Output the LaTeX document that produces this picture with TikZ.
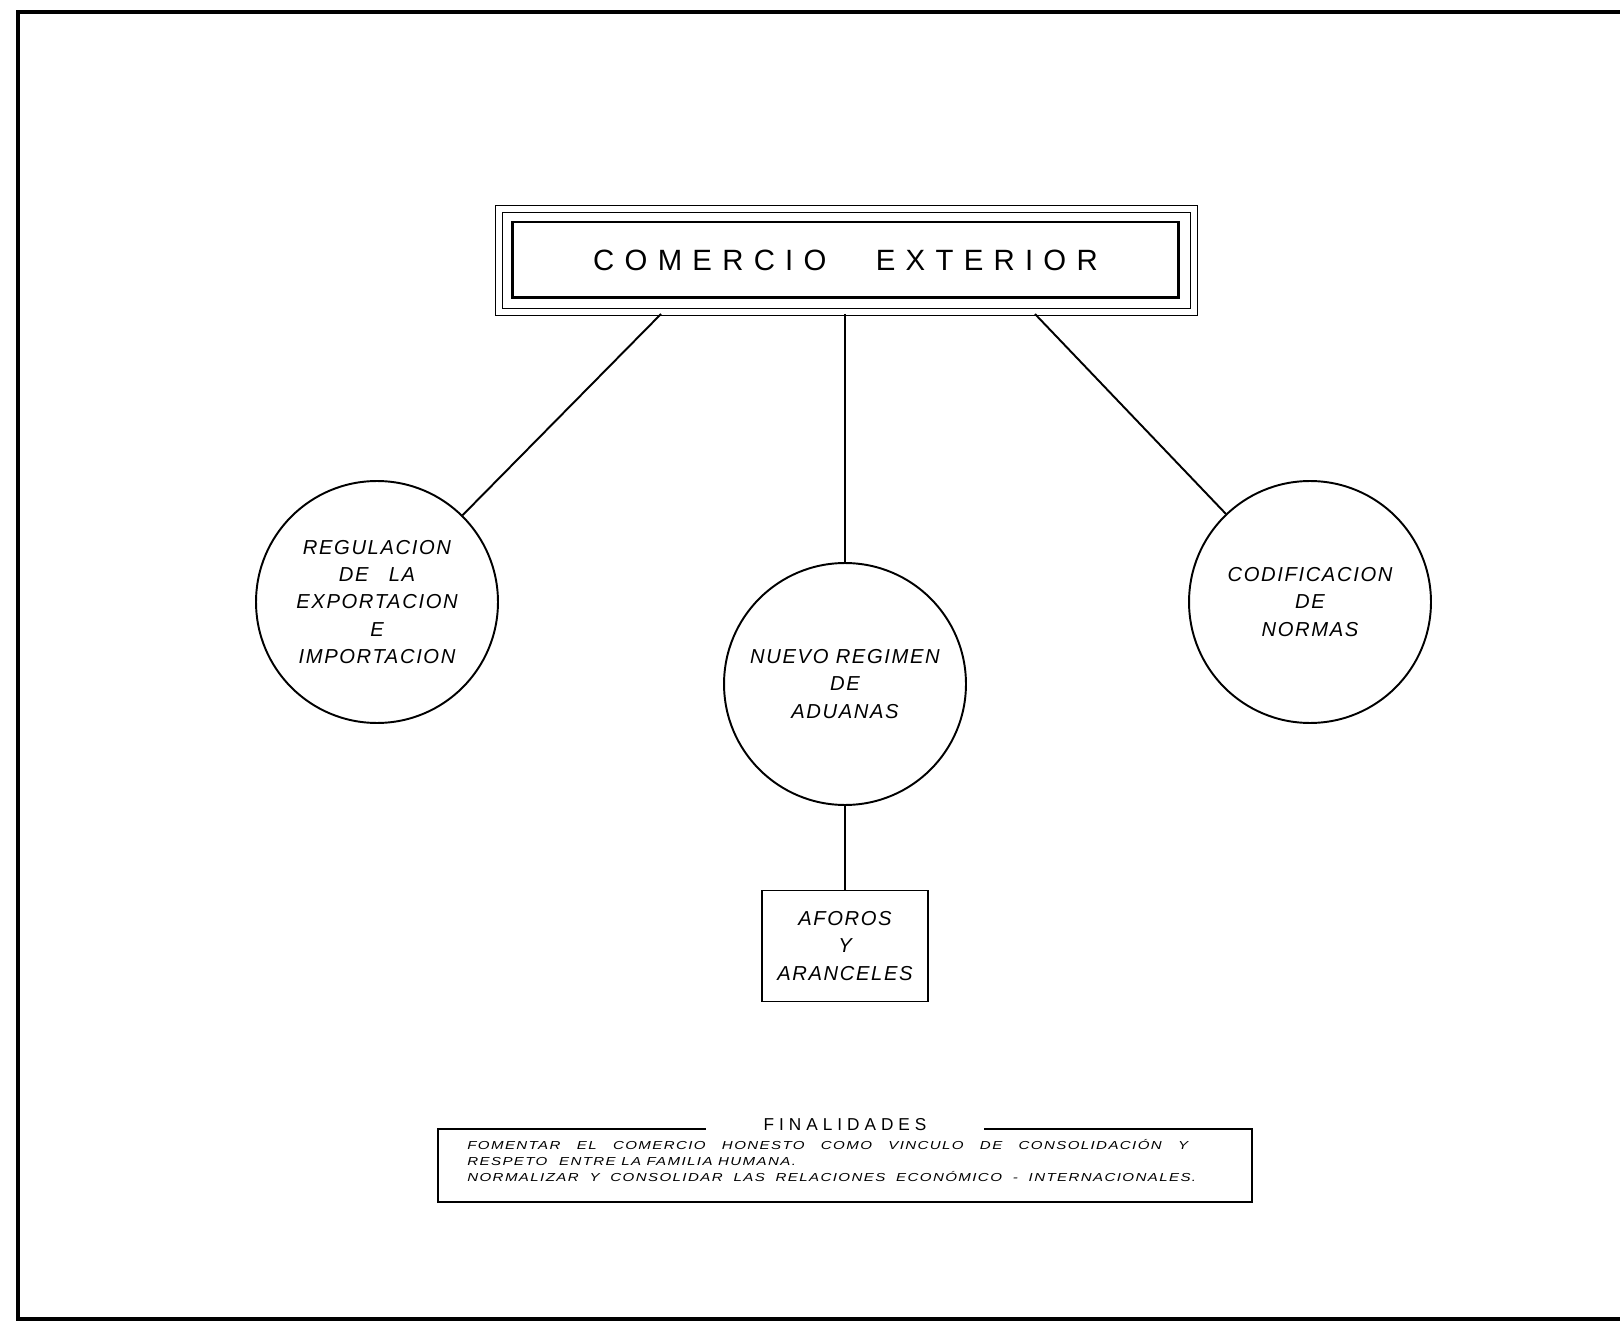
\documentclass[tikz,border=0pt]{standalone}
\usepackage{fontspec}
\usepackage{tikz}
\usetikzlibrary{positioning,calc}
\setmainfont{Liberation Sans}
\newfontfamily\rotulo[LetterSpace=35]{Liberation Sans}
\newfontfamily\letra[LetterSpace=8]{Liberation Sans}
\newfontfamily\fintit[LetterSpace=29]{Liberation Sans}
\newfontfamily\finletra[LetterSpace=12,FakeStretch=1.3]{Liberation Sans}

\tikzset{
  tema/.style={circle,draw,line width=1.1pt,minimum size=4.84cm,inner sep=0pt,align=center,
    font=\letra\itshape\fontsize{11.5}{15.4}\selectfont},
  rama/.style={line width=1.1pt},
}

\begin{document}
\begin{tikzpicture}[x=0.02cm,y=-0.02cm]
  \useasboundingbox (0,0) rectangle (1620,1324);
  % marco
  \draw[line width=2.6pt] (1620,12) -- (18,12) -- (18,1319) -- (1620,1319);

  % titulo
  \node[draw,line width=1.7pt,minimum width=13.34cm,minimum height=1.52cm,
    font=\rotulo\fontsize{16.7}{20}\selectfont] (ce) at (845.5,260) {COMERCIO \hspace{0.62cm}EXTERIOR};
  \draw[line width=0.6pt] ($(ce.south west)+(-15,16)$) rectangle ($(ce.north east)+(17,-15)$);
  \draw[line width=0.6pt] ($(ce.south west)+(-8,9)$) rectangle ($(ce.north east)+(10,-8)$);
  \coordinate (izq) at (661,314);
  \coordinate (cen) at (845,314);
  \coordinate (der) at (1035,314);

  % temas
  \node[tema] (reg) at (377,602) {REGULACION\\DE\quad LA\\EXPORTACION\\E\\IMPORTACION};
  \node[tema] (adu) at (845,684) {NUEVO REGIMEN\\DE\\ADUANAS};
  \node[tema] (cod) at (1310,602) {CODIFICACION\\DE\\NORMAS};
  \node[draw,line width=1.1pt,minimum width=3.32cm,minimum height=2.22cm,align=center,
    font=\letra\itshape\fontsize{11.5}{15.4}\selectfont] (afo) at (845,946) {AFOROS\\Y\\ARANCELES};

  \draw[rama] (izq) -- (reg);
  \draw[rama] (cen) -- (adu);
  \draw[rama] (der) -- (cod);
  \draw[rama] (adu) -- (afo);

  % finalidades
  \draw[line width=1pt] (706,1129) -- (438,1129) -- (438,1202) -- (1252,1202) -- (1252,1129) -- (984,1129);
  \node[font=\fintit\fontsize{9.8}{12}\selectfont] (tfin) at (845,1125) {FINALIDADES};
  \node[anchor=west,align=left,inner sep=0pt,font=\finletra\itshape\fontsize{6.6}{9.1}\selectfont] (txt) at (467,1161)
    {\makebox[14.42cm][s]{FOMENTAR EL COMERCIO HONESTO COMO VINCULO DE CONSOLIDACIÓN Y}\\
     RESPETO\quad ENTRE LA FAMILIA HUMANA.\\
     \makebox[14.58cm][s]{NORMALIZAR Y CONSOLIDAR LAS RELACIONES ECONÓMICO - INTERNACIONALES.}};
\end{tikzpicture}
\end{document}
